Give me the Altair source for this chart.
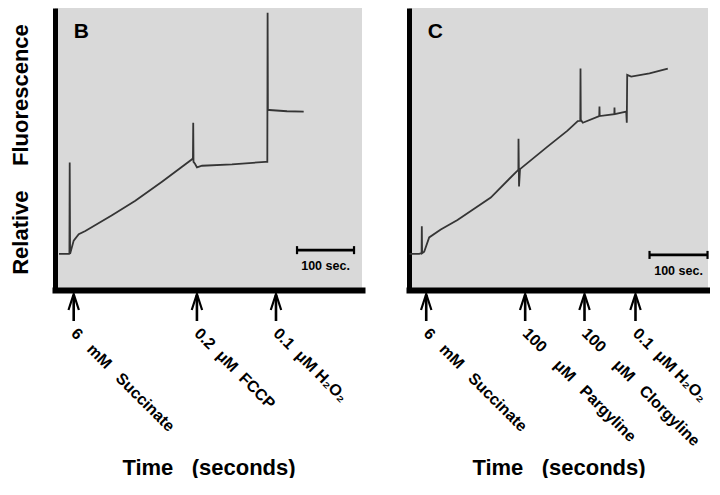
import altair as alt
import pandas as pd

NB = "\u00a0"
FONT = "Liberation Sans"

# ---------------- Panel B trace (time in s, relative fluorescence, arbitrary units) -------------
b_time = [7.0, 24.6, 25.3, 25.8, 26.5, 32.8, 41.6, 53.2, 100.0, 140.9, 187.7, 240.4, 242.0,
          242.5, 243.0, 245.6, 249.1, 257.9, 310.5, 369.0, 372.5, 373.0, 373.5, 376.0, 407.0, 436.3]
b_fluor = [37.7, 37.7, 38.0, 133.3, 38.0, 51.7, 58.3, 61.7, 78.3, 93.3, 113.3, 136.7, 138.0,
           175.0, 134.0, 132.0, 128.3, 130.0, 131.5, 134.0, 134.0, 290.0, 188.3, 188.3, 187.0, 186.7]

# ---------------- Panel C trace ----------------
c_time = [0.9, 17.6, 21.7, 22.1, 22.6, 26.2, 34.8, 54.8, 83.6, 141.0, 187.1, 188.6, 188.8, 189.7,
          191.4, 238.8, 273.3, 291.0, 295.3, 295.7, 296.2, 299.7, 328.0, 328.4, 328.8, 354.0,
          354.3, 354.6, 374.5, 375.5, 376.2, 383.1, 414.7, 446.2]
c_fluor = [37.7, 37.7, 38.5, 66.7, 38.5, 40.0, 55.0, 63.3, 73.3, 96.7, 125.0, 126.0, 158.3, 108.3,
           126.5, 150.0, 166.7, 176.7, 177.0, 231.7, 178.0, 175.0, 182.0, 192.0, 182.0, 184.0,
           191.0, 184.0, 186.7, 175.0, 225.0, 223.3, 226.5, 231.7]

# ---------------- additions (arrows) ----------------
b_add_time = [32.8, 249.0, 387.7]
b_add_label = [f"6{NB*3}mM{NB*3}Succinate", f"0.2{NB*2}\u03bcM{NB*2}FCCP", f"0.1{NB*2}\u03bcM{NB}H\u2082O\u2082"]
c_add_time = [29.7, 200.3, 302.6, 390.5]
c_add_label = [f"6{NB*3}mM{NB*3}Succinate", f"100{NB*4}\u03bcM{NB*3}Pargyline",
               f"100{NB*4}\u03bcM{NB*3}Clorgyline", f"0.1{NB*2}\u03bcM{NB}H\u2082O\u2082"]

# ---------------- scale bars (100 s) ----------------
b_bar = [424.6, 524.6, 41.7]
c_bar = [414.7, 514.7, 36.7]
bar_label = "100 sec."

panel_letters = ["B", "C"]
letter_pos_b = [32.8, 263.3]
letter_pos_c = [32.4, 263.3]

Y_MAX = 295
H = 282


def panel(letter, letter_pos, times, fluor, add_t, add_lab, bar, xmax, width, ytitle):
    xs = alt.Scale(domain=[0, xmax], nice=False, zero=False)
    ys = alt.Scale(domain=[0, Y_MAX], nice=False, zero=False)
    trace = pd.DataFrame({"t": times, "F": fluor})
    adds = pd.DataFrame({"t": add_t, "label": add_lab})
    bar_df = pd.DataFrame({"t": [bar[0]], "t_end": [bar[1]], "F": [bar[2]],
                           "t_mid": [(bar[0] + bar[1]) / 2], "label": [bar_label]})
    bar_ticks = pd.DataFrame({"t": [bar[0], bar[1]], "F_lo": [bar[2] - 4.2] * 2,
                              "F_hi": [bar[2] + 4.2] * 2})
    let_df = pd.DataFrame({"t": [letter_pos[0]], "F": [letter_pos[1]], "label": [letter]})

    yaxis_kw = dict(labels=False, ticks=False, grid=False, domainWidth=5, domainColor="black",
                    domainCap="butt")
    if ytitle:
        yaxis_kw.update(title=ytitle, titleFont=FONT, titleFontSize=22, titleFontWeight="bold",
                        titleColor="black", titleX=-28, titleBaseline="alphabetic", titleAngle=270)
    else:
        yaxis_kw.update(title=None)

    line = alt.Chart(trace).mark_line(color="#353535", strokeWidth=1.8).encode(
        x=alt.X("t:Q", scale=xs, axis=alt.Axis(
            labels=False, ticks=False, grid=False, domainWidth=6, domainColor="black",
            domainCap="square", title=f"Time{NB*3}(seconds)", titleFont=FONT, titleFontSize=22,
            titleFontWeight="bold", titleColor="black", titleY=184, titleBaseline="alphabetic")),
        y=alt.Y("F:Q", scale=ys, axis=alt.Axis(**yaxis_kw)),
        order=alt.Order("t:Q"),
    )
    shaft = alt.Chart(adds).mark_rule(color="black", strokeWidth=2.6).encode(
        x="t:Q", y=alt.value(287), y2=alt.value(313))
    head = alt.Chart(adds).mark_point(shape="M -0.65 1 L 0 -1 L 0.65 1", size=256, filled=False,
                                      color="black", strokeWidth=2.2, opacity=1).encode(
        x="t:Q", y=alt.value(294))
    labels = alt.Chart(adds).mark_text(angle=45, align="left", baseline="middle", fontSize=16,
                                       fontWeight="bold", font=FONT, color="black").encode(
        x="t:Q", y=alt.value(323), text="label:N")
    bar_line = alt.Chart(bar_df).mark_rule(color="black", strokeWidth=2.6).encode(
        x="t:Q", x2="t_end:Q", y="F:Q")
    bar_tk = alt.Chart(bar_ticks).mark_rule(color="black", strokeWidth=2.2).encode(
        x="t:Q", y="F_lo:Q", y2="F_hi:Q")
    bar_txt = alt.Chart(bar_df).mark_text(fontSize=12.5, fontWeight="bold", font=FONT,
                                          color="black", baseline="alphabetic", dy=20).encode(
        x="t_mid:Q", y="F:Q", text="label:N")
    let_txt = alt.Chart(let_df).mark_text(fontSize=21, fontWeight="bold", font=FONT,
                                          color="black", align="left",
                                          baseline="alphabetic").encode(
        x="t:Q", y="F:Q", text="label:N")
    return alt.layer(line, shaft, head, labels, bar_line, bar_tk, bar_txt, let_txt).properties(
        width=width, height=H)


pB = panel(panel_letters[0], letter_pos_b, b_time, b_fluor, b_add_time, b_add_label, b_bar,
           307 / 0.57, 307, f"Relative{NB*4}Fluorescence")
pC = panel(panel_letters[1], letter_pos_c, c_time, c_fluor, c_add_time, c_add_label, c_bar,
           299 / 0.58, 299, None)

chart = alt.hconcat(pB, pC, spacing=43).properties(
    padding={"left": 0, "top": 0, "right": 0, "bottom": 0},
    background="white",
).configure_view(fill="#d9d9d9", strokeWidth=0)

chart.save("out.html", embed_options={"renderer": "svg", "actions": False})
